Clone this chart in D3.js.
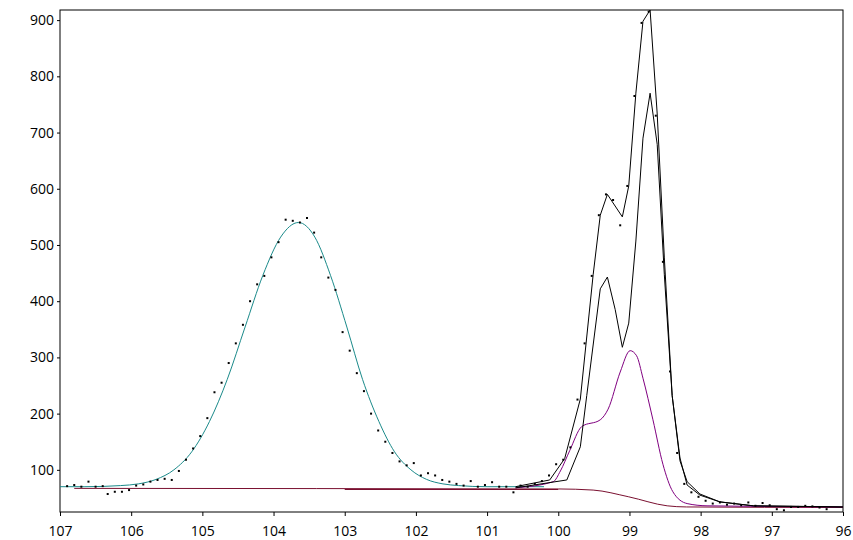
<!DOCTYPE html>
<html><head><meta charset="utf-8">
<script src="https://cdn.jsdelivr.net/npm/d3@7"></script>
<style>body{margin:0;background:#fff}text{font-family:"Open Sans",sans-serif}</style>
</head><body><div id="chart"></div>
<script>
// left peak fit (teal)
const fitLeftX = [107,106.65,106.15,105.9,105.65,105.4,105.15,104.9,104.65,104.4,104.15,103.9,103.65,103.42,103.2,102.97,102.75,102.52,102.3,102.07,101.85,101.62,101.4,101.0,100.2];
const fitLeftY = [70,70,72,75,83,100,132,186,261,354,446,514,540,514,446,354,261,186,132,100,83,75,72,70,70];
// measured envelope on the right (black, upper)
const envX = [100.6,100.12,99.91,99.69,99.51,99.41,99.31,99.10,99.01,98.91,98.81,98.71,98.61,98.51,98.40,98.29,98.19,98.01,97.73,97.26,96];
const envY = [70,82,120,226,447,553,590,550,605,770,898,918,733,477,232,121,73,55,43,36,34];
// second black line
const sumX = [100.6,99.88,99.69,99.6,99.41,99.31,99.2,99.1,99.01,98.91,98.81,98.71,98.61,98.51,98.4,98.29,98.19,98.01,97.73,97.26,96];
const sumY = [68,82,141,232,422,443,385,318,361,507,690,770,679,447,232,116,79,57,43,36,34];
// purple component
const purX = [100.6,100.07,99.97,99.84,99.67,99.41,99.3,99.13,98.99,98.9,98.81,98.67,98.53,98.39,98.19,97.91,96];
const purY = [68,79,98,134,177,189,208,274,312,303,263,189,110,61,40,36,34];
// baselines (dark red)
const baseX = [106.8,100,99.51,99.01,98.47,98.2,96];
const baseY = [67,66,64,52,36,34,33];
const base2X = [103,100];
const base2Y = [65,65];
// raw points
const dotX = [106.9,106.8,106.7,106.6,106.5,106.4,106.33,106.23,106.13,106.03,105.93,105.83,105.73,105.63,105.53,105.43,105.33,105.23,105.13,105.03,104.93,104.83,104.73,104.63,104.53,104.43,104.33,104.23,104.13,104.03,103.93,103.83,103.73,103.63,103.53,103.43,103.33,103.23,103.13,103.03,102.93,102.83,102.73,102.63,102.53,102.43,102.33,102.23,102.13,102.03,101.93,101.83,101.73,101.63,101.53,101.43,101.33,101.23,101.13,101.03,100.93,100.83,100.73,100.63,100.53,100.43,100.33,100.23,100.13,100.03,99.93,99.83,99.73,99.63,99.53,99.43,99.33,99.23,99.13,99.03,98.93,98.83,98.73,98.63,98.53,98.43,98.33,98.23,98.13,98.03,97.93,97.83,97.73,97.63,97.53,97.43,97.33,97.23,97.13,97.03,96.93,96.83,96.73,96.63,96.53,96.43,96.33,96.23];
const dotY = [71,73,70,79,70,71,57,61,61,64,72,74,79,82,84,82,98,118,138,160,192,238,255,290,325,358,400,430,445,478,505,545,543,540,548,522,478,442,420,345,312,272,240,200,170,150,130,115,108,112,90,94,90,82,79,75,72,80,70,73,78,70,70,60,72,70,75,80,90,110,118,140,225,325,445,553,590,580,535,605,765,895,915,730,470,275,130,75,60,52,45,40,42,38,40,37,42,36,41,37,30,28,34,34,36,35,33,30];
const xTicks = [107,106,105,104,103,102,101,100,99,98,97,96];
const yTicks = [100,200,300,400,500,600,700,800,900];

const W = 853, H = 540;
const margin = {top: 10, right: 10, bottom: 28, left: 60};
const svg = d3.select("#chart").append("svg").attr("width", W).attr("height", H);
const x = d3.scaleLinear().domain([107, 96]).range([margin.left, W - margin.right]);
const y = d3.scaleLinear().domain([25, 918]).range([H - margin.bottom, margin.top]);

svg.append("g").attr("transform", `translate(0,${H - margin.bottom})`)
  .call(d3.axisBottom(x).tickValues(xTicks).tickSize(4).tickFormat(d3.format("d")))
  .call(g => g.select(".domain").remove())
  .selectAll("text").attr("font-size", 14).attr("dy", "1.2em").attr("fill", "#000");
svg.append("g").attr("transform", `translate(${margin.left},0)`)
  .call(d3.axisLeft(y).tickValues(yTicks).tickSize(3))
  .call(g => g.select(".domain").remove())
  .selectAll("text").attr("font-size", 14).attr("fill", "#000");
svg.append("rect").attr("x", margin.left).attr("y", margin.top)
  .attr("width", W - margin.left - margin.right).attr("height", H - margin.top - margin.bottom)
  .attr("fill", "none").attr("stroke", "#000");

const plot = svg.append("g");
function line(xs, ys, color, curve) {
  plot.append("path").datum(xs.map((v, i) => [v, ys[i]]))
    .attr("fill", "none").attr("stroke", color).attr("stroke-width", 1)
    .attr("d", d3.line().x(d => x(d[0])).y(d => y(d[1])).curve(curve || d3.curveLinear));
}
line(base2X, base2Y, "#7a1030");
line(baseX, baseY, "#7a1030", d3.curveMonotoneX);
line(fitLeftX, fitLeftY, "#1a8a8a", d3.curveMonotoneX);
line(purX, purY, "#800080", d3.curveMonotoneX);
line(sumX, sumY, "#000");
line(envX, envY, "#000");

plot.selectAll("rect.dot").data(dotX.map((v, i) => [v, dotY[i]])).join("rect")
  .attr("class", "dot").attr("x", d => x(d[0]) - 1).attr("y", d => y(d[1]) - 1)
  .attr("width", 2).attr("height", 2).attr("fill", "#000");
</script></body></html>
